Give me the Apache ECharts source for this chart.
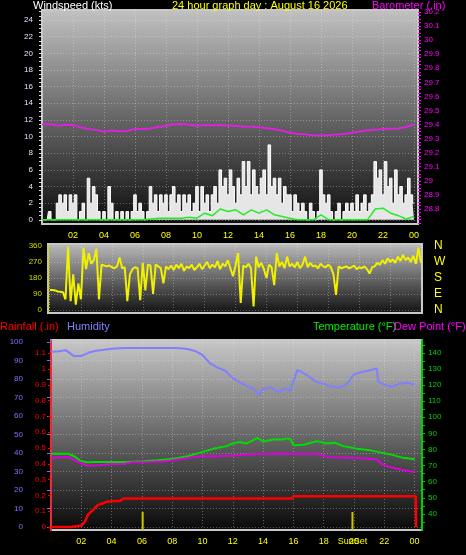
<!DOCTYPE html>
<html><head><meta charset="utf-8">
<script src="https://cdn.jsdelivr.net/npm/echarts@6/dist/echarts.min.js"></script>
<style>html,body{margin:0;padding:0;background:#000;}#c{width:466px;height:555px;}</style>
</head><body><div id="c"></div>
<script>
// ---------- DATA ----------
// Wind speed (kts), one value per 10 minutes, 00:00 .. 24:00
const WSPD = [
0,0,0,1,0,0, 2,3,2,3,1,3, 2,3,0,1,2,0, 5,2,4,3,1,0,
1,0,4,2,0,1, 0,1,0,1,0,1, 3,1,2,1,0,1, 4,2,3,1,3,2,
3,1,3,4,2,3, 1,3,2,3,1,2, 4,1,4,2,3,1, 3,4,2,6,4,5,
3,6,4,2,5,3, 7,4,7,3,6,4, 3,5,6,3,9,4, 5,3,5,2,4,3,
3,1,3,2,1,2, 1,0,2,1,0,1, 6,3,2,3,1,0, 1,2,0,1,2,1,
2,1,3,1,2,3, 1,2,3,7,5,6, 3,7,4,5,2,6, 3,4,2,3,5,3,
2];
const WSPD_STEP_H = 1/6;
// Average wind (green), half-hourly
const WAVG = [0,0,0,0,0,0,0,0,0,0,0,0,0,0,
0.1,0.2,0.2,0.2,0.2,0.3,0.2,0.8,0.5,1.3,1.0,1.2,0.6,1.2,0.8,1.2,0.6,0.4,0.2,0,0,0,0.6,0,0,0,0,0,0,1.3,1.4,0.8,0.5,0.1,0.4];
// Barometer (.in), half-hourly
const BARO = [29.400,29.404,29.392,29.398,29.396,29.380,29.368,29.362,29.348,29.358,
29.352,29.354,29.370,29.366,29.372,29.382,29.390,29.402,29.404,29.398,
29.392,29.396,29.395,29.396,29.393,29.390,29.386,29.384,29.380,29.374,
29.366,29.356,29.342,29.334,29.330,29.324,29.322,29.326,29.330,29.332,
29.342,29.350,29.360,29.362,29.368,29.370,29.372,29.382,29.400];
const HALF_STEP_H = 0.5;
// Wind direction (deg), one value per 10 minutes
const WDIR = [
112,112,110,104,103,100, 60,355,50,200,30,150, 60,350,230,320,260,280, 345,60,255,250,245,250,
240,235,245,295,235,240, 50,200,230,240,235,55, 265,110,255,250,90,255, 245,235,150,245,230,250,
225,255,235,260,220,245, 235,255,225,240,260,230, 250,270,235,255,240,275, 230,260,245,280,235,190,
250,320,40,250,240,260, 235,20,300,240,265,230, 180,255,240,140,320,245, 270,235,300,245,260,240,
270,235,255,300,240,265, 245,250,235,260,245,240, 255,240,200,85,245,235, 240,245,235,240,250,230,
240,235,245,230,205,240, 245,265,255,280,260,290, 270,285,265,300,275,310, 280,295,270,305,260,350,
265];
// Humidity (%)
const HUM_T = [0,0.5,1,1.5,2,2.5,3,3.5,4,4.5,5,6,7,8,8.5,9,9.5,10,10.5,11,11.5,12,12.5,13,13.5,13.7,14,14.5,15,15.5,15.8,16,16.25,16.5,17,17.5,18,18.5,19,19.5,20,20.5,21,21.5,21.6,22,22.5,23,23.5,24];
const HUM = [94.6,95,95.5,92.5,92.5,94.3,95.3,95.8,96.4,96.6,96.8,96.8,96.8,96.8,96.6,96.2,95.2,93.0,88.5,86.2,84.5,80.5,78,76.2,74,71.5,74.5,75.5,73,75,73.6,78.6,84.8,84,81.5,78.5,77.5,76,75.4,77,82.5,83.8,84.6,85.7,78.6,77,75.8,77.5,78,77];
// Temperature (F)
const TEMP_T = [0,1.15,1.6,1.9,2.35,3,4,5,6.1,7,8.1,9,9.8,10.7,11.6,12,12.5,12.9,13.3,13.6,14,14.7,15.3,15.55,15.8,16,16.65,17.1,17.55,18.2,18.75,19.3,20.2,21.05,21.9,22.6,23.25,24];
const TEMP = [77.3,77.3,75.5,73.1,72.1,72.2,72.3,72.3,72.7,73.3,74.2,75.8,77.9,80.4,82.1,83.75,84.6,83.75,85.5,87.3,85,86.25,86.25,86.9,86.5,82.7,82.9,84,85.2,83.75,84.2,82.1,80.4,79.6,77.9,76.5,74.8,73.9];
// Dew point (F)
const DEW_T = [0,1.15,1.7,2.35,3.2,3.9,4.8,5.4,6.5,7.6,8.7,9.8,10.9,12,13.1,14.2,15.3,16.4,17.5,18.4,19.7,20.8,21.5,21.9,22.4,23.1,24];
const DEW = [74.8,75.4,72.7,70,70.2,71,71,72.1,72.3,72.7,74.2,75.8,75.8,76.25,76.9,77.3,77.5,77.3,77.3,75.2,74.8,74.4,73.75,70.6,69,67.5,66];
// Rainfall (.in)
const RAIN_T = [0,1.35,1.36,2.02,2.24,2.46,2.8,3.1,3.45,3.67,4.2,4.55,4.77,15.9,16.0,24.08,24.1];
const RAIN = [0,0,0.01,0.01,0.035,0.08,0.11,0.14,0.15,0.16,0.165,0.165,0.18,0.18,0.195,0.195,0];
// Sun events
const SUN_EVENTS = [6.05, 19.9];
const SUN_BAR = 0.095;
const SUNSET = 19.9;

// tick labels
const HOUR_TICKS = [2,4,6,8,10,12,14,16,18,20,22,24];
const WIND_LABELS = [0,2,4,6,8,10,12,14,16,18,20,22,24];
const BARO_LABELS = [28.8,28.9,29.0,29.1,29.2,29.3,29.4,29.5,29.6,29.7,29.8,29.9,30.0,30.1,30.2];
const DIR_LABELS = [0,90,180,270,360];
const DIR_NAMES = {0:'N',90:'E',180:'S',270:'W',360:'N'};
const HUM_LABELS = [0,10,20,30,40,50,60,70,80,90,100];
const RAIN_LABELS = [0,0.1,0.2,0.3,0.4,0.5,0.6,0.7,0.8,0.9,1.0,1.1];
const TEMP_LABELS = [40,50,60,70,80,90,100,110,120,130,140];

// ---------- helpers ----------
const pairs = (ts, vs) => vs.map((v, i) => [ts[i], v]);
const stepPairs = (step, vs) => vs.map((v, i) => [i * step, v]);
const hh = v => String(Math.round(v) % 24).padStart(2, '0');
const range = (a, b, s) => { const r = []; for (let v = a; v <= b + 1e-9; v += s) r.push(+v.toFixed(4)); return r; };
const F = '"Liberation Sans", Arial, sans-serif';
const bg = (c1, c2) => new echarts.graphic.LinearGradient(0, 0, 0, 1, [{offset: 0, color: c1}, {offset: 1, color: c2}]);
const dotted = {show: true, lineStyle: {color: 'rgba(235,235,235,0.35)', type: [1, 2], width: 1}};

const chart = echarts.init(document.getElementById('c'), null, {renderer: 'canvas'});
chart.setOption({
  backgroundColor: '#000',
  animation: false,
  graphic: [
    {type: 'text', left: 33, top: 0, style: {text: 'Windspeed (kts)', fill: '#ffffff', font: '11px ' + F}},
    {type: 'text', left: 172, top: 0, style: {text: '24 hour graph day : August 16 2026', fill: '#ffff00', font: '11px ' + F}},
    {type: 'text', left: 372, top: 0, style: {text: 'Barometer (.in)', fill: '#ff00ff', font: '11px ' + F}},
    {type: 'text', left: 0, top: 321, style: {text: 'Rainfall (.in)', fill: '#ff0000', font: '11px ' + F}},
    {type: 'text', left: 67, top: 321, style: {text: 'Humidity', fill: '#8080ff', font: '11px ' + F}},
    {type: 'text', left: 313, top: 321, style: {text: 'Temperature (°F)', fill: '#00ee00', font: '11px ' + F}},
    {type: 'text', left: 394, top: 321, style: {text: 'Dew Point (°F)', fill: '#ff00ff', font: '11px ' + F}}
  ],
  grid: [
    {left: 42, right: 48, top: 10, height: 214, show: true, backgroundColor: bg('#c2c2c2', '#0c0c0c'), borderColor: '#c8c8c8', borderWidth: 2},
    {left: 48, right: 44, top: 244, height: 69, show: true, backgroundColor: bg('#bcbcbc', '#101010'), borderColor: '#c8c8c8', borderWidth: 2},
    {left: 51, right: 44, top: 340, height: 190, show: true, backgroundColor: bg('#c8c8c8', '#080808'), borderColor: '#c8c8c8', borderWidth: 2}
  ],
  xAxis: [
    {type: 'value', gridIndex: 0, min: 0, max: 24.26, axisLine: {show: false},
     axisTick: {show: false, customValues: HOUR_TICKS},
     axisLabel: {customValues: HOUR_TICKS, formatter: hh, color: '#ffff00', fontSize: 9, fontFamily: F, margin: 7},
     splitLine: dotted},
    {type: 'value', gridIndex: 1, min: -0.13, max: 24.06, axisLine: {show: false},
     axisTick: {show: false, customValues: HOUR_TICKS}, axisLabel: {show: false, customValues: HOUR_TICKS},
     splitLine: dotted},
    {type: 'value', gridIndex: 2, min: 0, max: 24.49, axisLine: {show: false},
     axisTick: {show: false, customValues: HOUR_TICKS},
     axisLabel: {customValues: HOUR_TICKS.concat([SUNSET]), formatter: v => (Math.abs(v - SUNSET) < 1e-6 ? 'SunSet' : hh(v)),
       color: '#ffff00', fontSize: 9, fontFamily: F, margin: 7},
     splitLine: dotted}
  ],
  yAxis: [
    {type: 'value', gridIndex: 0, position: 'left', min: -0.5, max: 25.2,
     axisLine: {show: false},
     axisTick: {show: true, customValues: range(0, 25, 0.5), length: 3, lineStyle: {color: '#dddddd'}},
     axisLabel: {customValues: WIND_LABELS, color: '#dde6ff', fontSize: 8, fontFamily: F, margin: 9},
     splitLine: {show: false}},
    {type: 'value', gridIndex: 0, position: 'left', min: -0.5, max: 25.2,
     axisLine: {show: false}, axisTick: {show: false, customValues: WIND_LABELS},
     axisLabel: {show: false, customValues: WIND_LABELS}, splitLine: dotted},
    {type: 'value', gridIndex: 0, position: 'right', min: 28.693, max: 30.214,
     axisLine: {show: false},
     axisTick: {show: true, customValues: range(28.7, 30.2, 0.025), length: 3, lineStyle: {color: '#ff00ff'}},
     axisLabel: {customValues: BARO_LABELS, formatter: v => String(Number(v.toFixed(1))), color: '#ff00ff', fontSize: 8, fontFamily: F, margin: 6},
     splitLine: {show: false}},
    {type: 'value', gridIndex: 1, position: 'left', min: -17, max: 371,
     axisLine: {show: false},
     axisTick: {show: true, customValues: range(0, 360, 15), length: 3, lineStyle: {color: '#c8c800'}},
     axisLabel: {customValues: DIR_LABELS, color: '#d8d800', fontSize: 8, fontFamily: F, margin: 6},
     splitLine: {show: false}},
    {type: 'value', gridIndex: 1, position: 'right', min: -17, max: 371,
     axisLine: {show: false}, axisTick: {show: false, customValues: DIR_LABELS},
     axisLabel: {customValues: DIR_LABELS, formatter: v => DIR_NAMES[Math.round(v)], color: '#ffff00', fontSize: 12, fontFamily: F, margin: 12},
     splitLine: dotted},
    {type: 'value', gridIndex: 2, position: 'left', offset: 22, min: -1.6, max: 101.1,
     axisLine: {show: true, lineStyle: {color: '#7070ff', width: 2}},
     axisTick: {show: true, customValues: HUM_LABELS, length: 4, lineStyle: {color: '#7070ff'}},
     axisLabel: {customValues: HUM_LABELS, color: '#7878ff', fontSize: 8, fontFamily: F, margin: 6},
     splitLine: dotted},
    {type: 'value', gridIndex: 2, position: 'left', offset: 0, min: -0.019, max: 1.1835,
     axisLine: {show: true, lineStyle: {color: '#ff2020', width: 2, type: [3, 2]}},
     axisTick: {show: true, customValues: RAIN_LABELS, length: 3, lineStyle: {color: '#ff0000'}},
     axisLabel: {customValues: RAIN_LABELS, formatter: v => String(Number(v.toFixed(1))), color: '#ff0000', fontSize: 8, fontFamily: F, margin: 5},
     splitLine: {show: false}},
    {type: 'value', gridIndex: 2, position: 'right', min: 30, max: 148,
     axisLine: {show: true, lineStyle: {color: '#00cc00', width: 2}},
     axisTick: {show: true, customValues: range(35, 145, 5), length: 3, lineStyle: {color: '#00cc00'}},
     axisLabel: {customValues: TEMP_LABELS, color: '#00d000', fontSize: 8, fontFamily: F, margin: 6},
     splitLine: {show: false}}
  ],
  series: [
    {name: 'Windspeed', type: 'line', step: 'middle', xAxisIndex: 0, yAxisIndex: 0, data: stepPairs(WSPD_STEP_H, WSPD), symbol: 'none',
     lineStyle: {color: '#ffffff', width: 1}, areaStyle: {color: '#e6e6e6', opacity: 1, origin: 0}},
    {name: 'Average', type: 'line', xAxisIndex: 0, yAxisIndex: 0, data: stepPairs(HALF_STEP_H, WAVG), symbol: 'none',
     lineStyle: {color: '#22ee22', width: 1.5}},
    {name: 'Barometer', type: 'line', xAxisIndex: 0, yAxisIndex: 2, data: stepPairs(HALF_STEP_H, BARO), symbol: 'none',
     lineStyle: {color: '#dd22dd', width: 2}},
    {name: 'Direction', type: 'line', xAxisIndex: 1, yAxisIndex: 3, data: stepPairs(WSPD_STEP_H, WDIR), symbol: 'none',
     lineStyle: {color: '#f0f000', width: 2}},
    {name: 'Humidity', type: 'line', xAxisIndex: 2, yAxisIndex: 5, data: pairs(HUM_T, HUM), symbol: 'none',
     lineStyle: {color: '#8080ff', width: 2}},
    {name: 'Rainfall', type: 'line', xAxisIndex: 2, yAxisIndex: 6, data: pairs(RAIN_T, RAIN), symbol: 'none',
     lineStyle: {color: '#ff0000', width: 2.5}},
    {name: 'Temperature', type: 'line', xAxisIndex: 2, yAxisIndex: 7, data: pairs(TEMP_T, TEMP), symbol: 'none',
     lineStyle: {color: '#00dd00', width: 2}},
    {name: 'Dew Point', type: 'line', xAxisIndex: 2, yAxisIndex: 7, data: pairs(DEW_T, DEW), symbol: 'none',
     lineStyle: {color: '#dd00dd', width: 2}},
    ...SUN_EVENTS.map(t => ({type: 'line', xAxisIndex: 2, yAxisIndex: 6, data: [[t, -0.019], [t, SUN_BAR]], symbol: 'none',
     lineStyle: {color: '#c8c800', width: 2}}))
  ]
});
</script></body></html>
